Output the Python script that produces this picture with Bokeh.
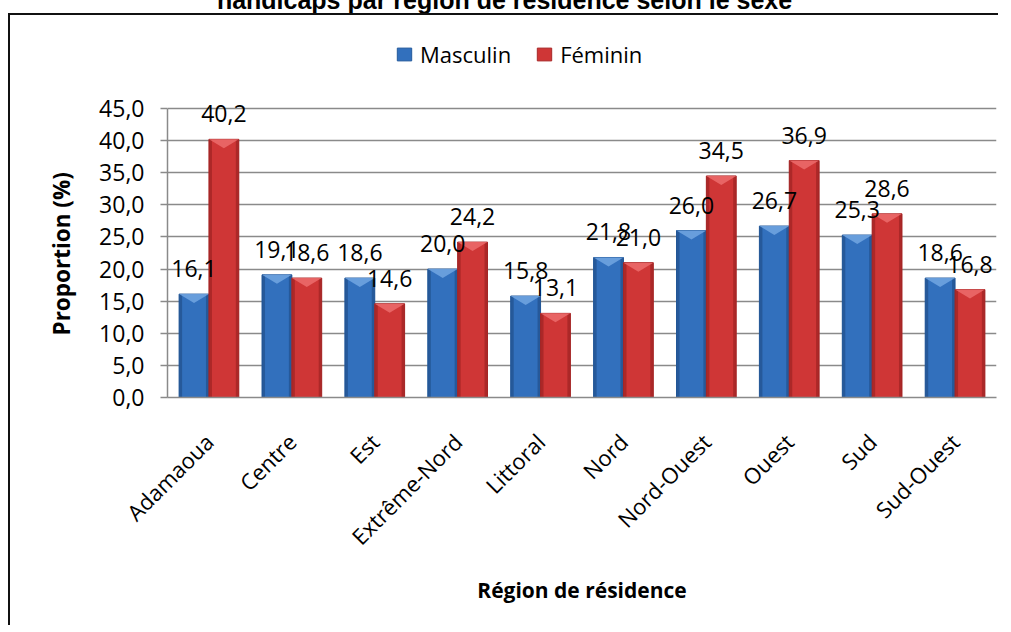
import math
import numpy as np
from bokeh.plotting import figure
from bokeh.models import (ColumnDataSource, FixedTicker, CustomJSTickFormatter, Legend,
                          LegendItem, LabelSet, Div, Range1d, Title)
from bokeh.core.properties import value
from bokeh.layouts import column
from bokeh.embed import file_html
from bokeh.resources import INLINE

# ---------------- data ----------------
title_text = "handicaps par région de résidence selon le sexe"
categories = ["Adamaoua", "Centre", "Est", "Extrême-Nord", "Littoral", "Nord",
              "Nord-Ouest", "Ouest", "Sud", "Sud-Ouest"]
masculin = [16.1, 19.1, 18.6, 20.0, 15.8, 21.8, 26.0, 26.7, 25.3, 18.6]
feminin = [40.2, 18.6, 14.6, 24.2, 13.1, 21.0, 34.5, 36.9, 28.6, 16.8]
series_names = ["Masculin", "Féminin"]
y_ticks = [0, 5, 10, 15, 20, 25, 30, 35, 40, 45]
x_label = "Région de résidence"
y_label = "Proportion (%)"

# ---------------- styling / layout ----------------
FONT = "Open Sans"
W, H = 990, 612
FRAME_W = 829
AXIS_H = 289          # pixel height from 0 to 45
TOP_PAD = 91          # pixels between frame top and the 45 line
BORDER_L, BORDER_T = 157, 2
FRAME_H = AXIS_H + TOP_PAD

n = len(categories)
centers = np.arange(n) + 0.5
bw = 0.36
y0, y1 = y_ticks[0], y_ticks[-1]
px_per_unit = AXIS_H / (y1 - y0)
y_top = y1 + TOP_PAD / px_per_unit
bevel = 9 / px_per_unit          # bevel height in data units
edge = 3.0 / (FRAME_W / n)       # side shade width in data units

p = figure(width=W, height=H, x_range=Range1d(0, n), y_range=Range1d(y0, y_top),
           output_backend="svg", toolbar_location=None,
           min_border_left=BORDER_L, min_border_right=W - BORDER_L - FRAME_W,
           min_border_top=BORDER_T, min_border_bottom=H - BORDER_T - FRAME_H,
           margin=(0, 0, 0, 8))
p.outline_line_color = None
p.background_fill_color = "white"
p.border_fill_color = "white"
p.styles = {"border-left": "2px solid #111", "border-top": "2px solid #111",
            "border-right": "none", "border-bottom": "none"}

p.xgrid.visible = False
p.ygrid.grid_line_color = "#8a8a8a"
p.ygrid.grid_line_width = 1.5

series = [
    (masculin, -1, "#3270bd", "#21508c", "#72a6e2", "#245a9c"),
    (feminin, 0, "#cf3636", "#9c2222", "#ec6c6c", "#a82828"),
]
legend_items = []
for (vals, side, body, dark, light, line), name in zip(series, series_names):
    left = centers + side * bw
    right = left + bw
    vals = np.array(vals)
    src = ColumnDataSource(dict(left=left, right=right, top=vals, bottom=np.zeros(n)))
    r = p.quad(left="left", right="right", top="top", bottom="bottom", source=src,
               fill_color=body, line_color=line, line_width=1)
    p.quad(left=left, right=left + edge, top=vals, bottom=np.zeros(n),
           fill_color=dark, line_color=None, fill_alpha=0.7)
    p.quad(left=right - edge, right=right, top=vals, bottom=np.zeros(n),
           fill_color=dark, line_color=None, fill_alpha=0.7)
    xs = [[l, rr, (l + rr) / 2] for l, rr in zip(left, right)]
    ys = [[v, v, v - bevel] for v in vals]
    p.patches(xs, ys, fill_color=light, line_color=None, fill_alpha=0.85)
    legend_items.append(LegendItem(label=name, renderers=[r]))

    lsrc = ColumnDataSource(dict(x=(left + right) / 2, y=vals,
                                 t=[f"{v:.1f}".replace(".", ",") for v in vals]))
    p.add_layout(LabelSet(x="x", y="y", text="t", source=lsrc, text_align="center",
                          text_baseline="alphabetic", y_offset=17,
                          text_font=value(FONT), text_font_size="23px", text_color="black"))

# y axis
p.yaxis.ticker = FixedTicker(ticks=y_ticks)
p.yaxis.bounds = (y0, y1)
p.yaxis.formatter = CustomJSTickFormatter(code="return tick.toFixed(1).replace('.', ',');")
p.yaxis.major_label_text_font = FONT
p.yaxis.major_label_text_font_size = "23px"
p.yaxis.major_label_text_color = "black"
p.yaxis.major_tick_out = 7
p.yaxis.major_tick_in = 0
p.yaxis.minor_tick_line_color = None
p.yaxis.axis_line_color = "#8a8a8a"
p.yaxis.major_tick_line_color = "#8a8a8a"
p.yaxis.axis_line_width = 1.5
p.yaxis.major_tick_line_width = 1.5
p.yaxis.major_label_standoff = 16

ytitle = Title(text=y_label, align="left", offset=62, standoff=40,
               text_font=FONT, text_font_style="bold", text_font_size="22.5px",
               text_color="black")
p.add_layout(ytitle, "left")

# x axis
p.xaxis.ticker = FixedTicker(ticks=list(centers))
p.xaxis.major_label_overrides = {float(c): cat for c, cat in zip(centers, categories)}
p.xaxis.major_label_orientation = math.pi / 4
p.xaxis.major_label_text_font = FONT
p.xaxis.major_label_text_font_size = "22px"
p.xaxis.major_label_text_color = "black"
p.xaxis.major_tick_line_color = None
p.xaxis.minor_tick_line_color = None
p.xaxis.axis_line_color = "#8a8a8a"
p.xaxis.axis_line_width = 1.5
p.xaxis.major_label_standoff = 34
p.xaxis.axis_label = x_label
p.xaxis.axis_label_text_font = FONT
p.xaxis.axis_label_text_font_style = "bold"
p.xaxis.axis_label_text_font_size = "21px"
p.xaxis.axis_label_text_color = "black"
p.xaxis.axis_label_standoff = 12

legend = Legend(items=legend_items, orientation="horizontal", location=(228, 328),
                label_text_font=FONT, label_text_font_size="22px", label_text_color="black",
                glyph_width=18, glyph_height=16, label_standoff=7, spacing=24,
                padding=0, margin=0, border_line_color=None, background_fill_alpha=0)
p.add_layout(legend, "center")

title = Div(text=title_text, width=1003, height=26, margin=(-13, 0, 0, 8),
            styles={"font-family": "Liberation Sans", "font-weight": "bold", "font-size": "25px",
                    "line-height": "26px", "text-align": "center", "color": "black",
                    "padding-right": "10px", "box-sizing": "border-box"})

layout = column(title, p, spacing=0)
open("out.html", "w").write(file_html(layout, INLINE))
